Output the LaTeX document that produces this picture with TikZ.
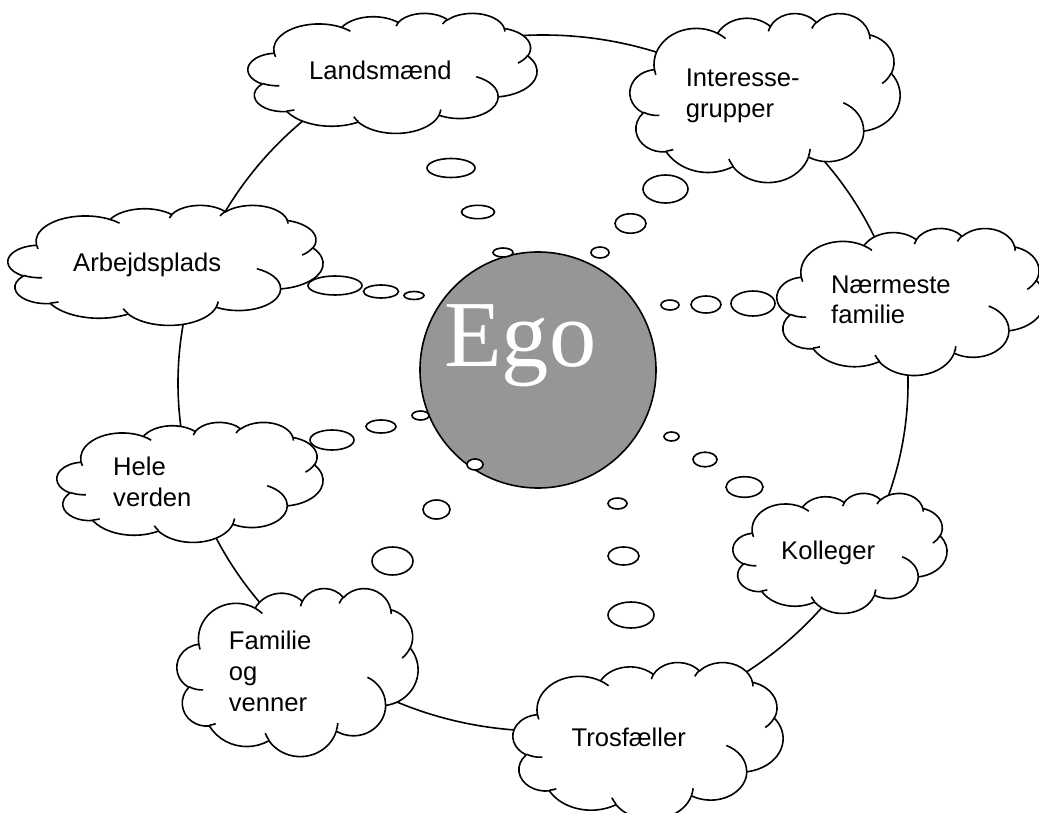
\documentclass[tikz,border=0pt]{standalone}
\usepackage{fontspec}
\setmainfont{Liberation Sans}
\newfontfamily\egofont{Liberation Serif}
\definecolor{egogray}{RGB}{150,150,150}
% parametric angles of the cloud arcs (visual angles -> ellipse parameter)
\newcommand\mkarc[5]{%
  \pgfmathsetmacro\tmpS{atan2(#2*sin(#4),#3*cos(#4))}%
  \pgfmathsetmacro\tmpE{atan2(#2*sin(#4+#5),#3*cos(#4+#5))}%
  \pgfmathsetmacro\tmpE{\tmpS+mod(\tmpE-\tmpS+720,360)}%
  \expandafter\xdef\csname #1\endcsname{arc[start angle=\tmpS,end angle=\tmpE,x radius=#2,y radius=#3]}%
}
\mkarc{CAa}{67.53}{91.90}{-190.4875}{123.7805}
\mkarc{CAb}{53.33}{72.67}{-144.1024}{89.9452}
\mkarc{CAc}{43.65}{59.45}{-145.8079}{99.7230}
\mkarc{CAd}{48.57}{65.95}{-130.9861}{117.2417}
\mkarc{CAe}{53.33}{72.73}{-78.7089}{109.0269}
\mkarc{CAf}{67.75}{92.20}{-46.2673}{130.2690}
\mkarc{CAg}{57.85}{78.67}{0.6250}{114.0333}
\mkarc{CAh}{67.52}{92.15}{22.4516}{115.1726}
\mkarc{CAi}{77.20}{105.43}{66.2426}{75.7110}
\mkarc{CAj}{43.60}{59.18}{-274.9421}{146.7356}
\mkarc{CAk}{43.45}{59.45}{-246.8285}{152.5189}
\mkarc{CIa}{43.45}{59.45}{86.7420}{26.4295}
\mkarc{CIb}{43.60}{59.18}{73.6105}{11.4475}
\mkarc{CIc}{67.52}{92.15}{137.6242}{14.0811}
\mkarc{CId}{67.52}{92.15}{6.4533}{15.9984}
\mkarc{CIe}{57.85}{78.67}{-70.2924}{70.9174}
\mkarc{CIf}{53.33}{72.73}{30.3180}{27.7515}
\mkarc{CIg}{48.57}{65.95}{-13.7443}{14.8589}
\mkarc{CIh}{48.57}{65.95}{-149.1815}{18.1954}
\mkarc{CIi}{43.65}{59.45}{-163.4943}{17.6864}
\mkarc{CIj}{67.53}{91.90}{-66.7070}{12.3194}
\mkarc{CIk}{67.53}{91.90}{157.6544}{11.8582}
\tikzset{
  outline/.style={draw=black,line width=1.6pt},
  bubble/.style={outline,fill=white},
  label/.style={inner sep=0pt,anchor=base west,font=\fontsize{25.6}{31}\selectfont},
}
\newcommand\cloudat[4]{%
  \pgfmathsetmacro\cwx{#3/432}\pgfmathsetmacro\chy{-#4/432}%
  \begin{scope}[shift={(#1,#2)},x=\cwx pt,y=\chy pt]
    \draw[outline,fill=white,line join=round] (39,143.7) \CAa \CAb \CAc \CAd \CAe \CAf \CAg \CAh \CAi \CAj \CAk -- cycle;
    \draw[outline] (46.93,261.77) \CIa (69.28,348.99) \CIb (164.78,390.90) \CIc
      (288.27,347.51) \CId (341.29,229.54) \CIe (417.98,153.54) \CIf
      (383.24,54.26) \CIg (290.78,39.52) \CIh (221.41,47.20) \CIi
      (140.00,51.92) \CIj (41.27,157.89) \CIk;
  \end{scope}}
\begin{document}
\begin{tikzpicture}[x=1pt,y=-1pt]
\useasboundingbox[fill=white] (0,0) rectangle (1039,813);
% outer ring
\draw[outline] (543,383) ellipse [x radius=365, y radius=348];
% Ego
\node[circle,draw=black,line width=1.6pt,fill=egogray,minimum size=236pt,inner sep=0pt] (ego) at (538,370) {};
\node[inner sep=0pt,anchor=base west,text=white,font=\egofont\fontsize{94.5}{100}\selectfont] (egotext) at (444,366) {Ego};
% thought bubbles
\foreach \cx/\cy/\rx/\ry in {
  451/168/24/9.5, 478/212/16.5/6.7, 503/252.5/10/4.5,
  335/285.5/27/9.5, 381/291.5/17.5/6.5, 414/295.5/10/4,
  665.5/189/22.5/14, 630.5/223.5/15.5/9.7, 600/252.5/9/5.5,
  753/303.5/22/12.5, 706/304.5/15/8.5, 670/305/9/5,
  332/440/22/10, 381/426.5/15/6.5, 420.5/415.5/8.5/4.5,
  392.5/561/20.5/14, 436.5/509.5/13.5/9.5, 475/464.5/8/5.5,
  744.5/487/18.5/10.3, 705/459.5/12/7.3, 671.5/436.5/7.5/4.5,
  631/615/23/13, 623.5/556/15.5/9, 617.5/503.5/9.5/5.5}
  \draw[bubble] (\cx,\cy) ellipse [x radius=\rx, y radius=\ry];
% clouds
\cloudat{248}{13}{289}{120}
\cloudat{630}{13}{270}{169}
\cloudat{8}{205}{315}{120}
\cloudat{777}{228}{268}{147}
\cloudat{57}{422}{266}{120}
\cloudat{177}{588}{241}{168}
\cloudat{733}{493}{214}{120}
\cloudat{513}{662}{270}{157}
% labels
\node[label] (landsmaend) at (309,80) {Landsmænd};
\node[label] (interesse) at (685.6,87) {\vtop{\hbox{Interesse-}\hbox{grupper}}};
\node[label] (arbejde) at (73,272) {Arbejdsplads};
\node[label] (naermeste) at (831,293) {\vtop{\hbox{Nærmeste}\hbox{familie}}};
\node[label] (hele) at (113,475) {\vtop{\hbox{Hele}\hbox{verden}}};
\node[label] (familie) at (228.7,649) {\vtop{\hbox{Familie}\hbox{og}\hbox{venner}}};
\node[label] (kolleger) at (781,559) {Kolleger};
\node[label] (tros) at (571.4,746) {Trosfæller};
\end{tikzpicture}
\end{document}
